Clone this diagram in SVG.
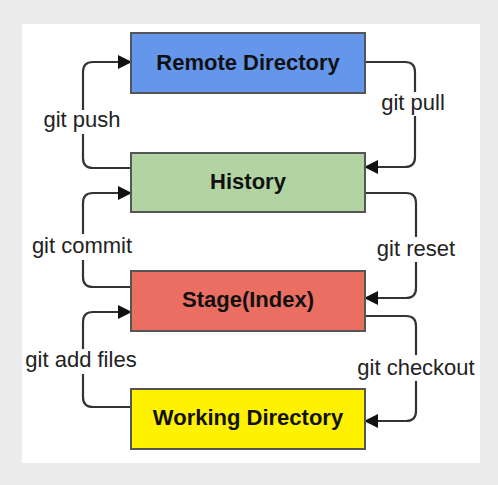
<svg xmlns="http://www.w3.org/2000/svg" width="498" height="485" viewBox="0 0 498 485">
<defs>
<style>
.box{stroke:#555;stroke-width:2}
.btxt{font-family:"Liberation Sans",Arial,sans-serif;font-weight:bold;font-size:22px;fill:#111;text-anchor:middle}
.ltxt{font-family:"Liberation Sans",Arial,sans-serif;font-size:22px;fill:#222;text-anchor:middle}
.conn{fill:none;stroke:#333;stroke-width:2.2}
</style>
<marker id="arr" markerUnits="userSpaceOnUse" markerWidth="16" markerHeight="16" refX="9" refY="7" orient="auto">
<path d="M0,0 L14,7 L0,14 z" fill="#111"/>
</marker>
</defs>
<rect x="0" y="0" width="498" height="485" fill="#ececec"/>
<rect x="22" y="24" width="458" height="439" fill="#ffffff"/>

<g id="connectors">
<g id="c-push">
<path class="conn" d="M131,168 H93 Q83,168 83,158 V134 M83,110 V72 Q83,62 93,62 H127" marker-end="url(#arr)"/>
<text class="ltxt" x="82" y="127">git push</text>
</g>
<g id="c-pull">
<path class="conn" d="M365,62 H405 Q415,62 415,72 V92 M415,116 V157 Q415,167 405,167 H369" marker-end="url(#arr)"/>
<text class="ltxt" x="413" y="110">git pull</text>
</g>
<g id="c-commit">
<path class="conn" d="M131,287 H93 Q83,287 83,277 V260 M83,234 V203 Q83,193 93,193 H127" marker-end="url(#arr)"/>
<text class="ltxt" x="82" y="253">git commit</text>
</g>
<g id="c-reset">
<path class="conn" d="M365,193 H406 Q416,193 416,203 V237 M416,262 V288 Q416,298 406,298 H369" marker-end="url(#arr)"/>
<text class="ltxt" x="416" y="256">git reset</text>
</g>
<g id="c-add">
<path class="conn" d="M131,407 H93 Q83,407 83,397 V374 M83,349 V322 Q83,312 93,312 H127" marker-end="url(#arr)"/>
<text class="ltxt" x="81" y="367">git add files</text>
</g>
<g id="c-checkout">
<path class="conn" d="M365,316 H406 Q416,316 416,326 V355 M416,381 V411 Q416,421 406,421 H369" marker-end="url(#arr)"/>
<text class="ltxt" x="416" y="375">git checkout</text>
</g>
</g>

<g id="remote">
<rect class="box" x="131" y="33" width="234" height="60" fill="#6496ec"/>
<text class="btxt" x="248" y="70">Remote Directory</text>
</g>
<g id="history">
<rect class="box" x="131" y="153" width="234" height="59" fill="#b2d4a3"/>
<text class="btxt" x="248" y="189">History</text>
</g>
<g id="stage">
<rect class="box" x="131" y="271" width="234" height="60" fill="#eb6e62"/>
<text class="btxt" x="248" y="307">Stage(Index)</text>
</g>
<g id="working">
<rect class="box" x="131" y="389" width="234" height="60" fill="#fff200"/>
<text class="btxt" x="248" y="425">Working Directory</text>
</g>
</svg>
